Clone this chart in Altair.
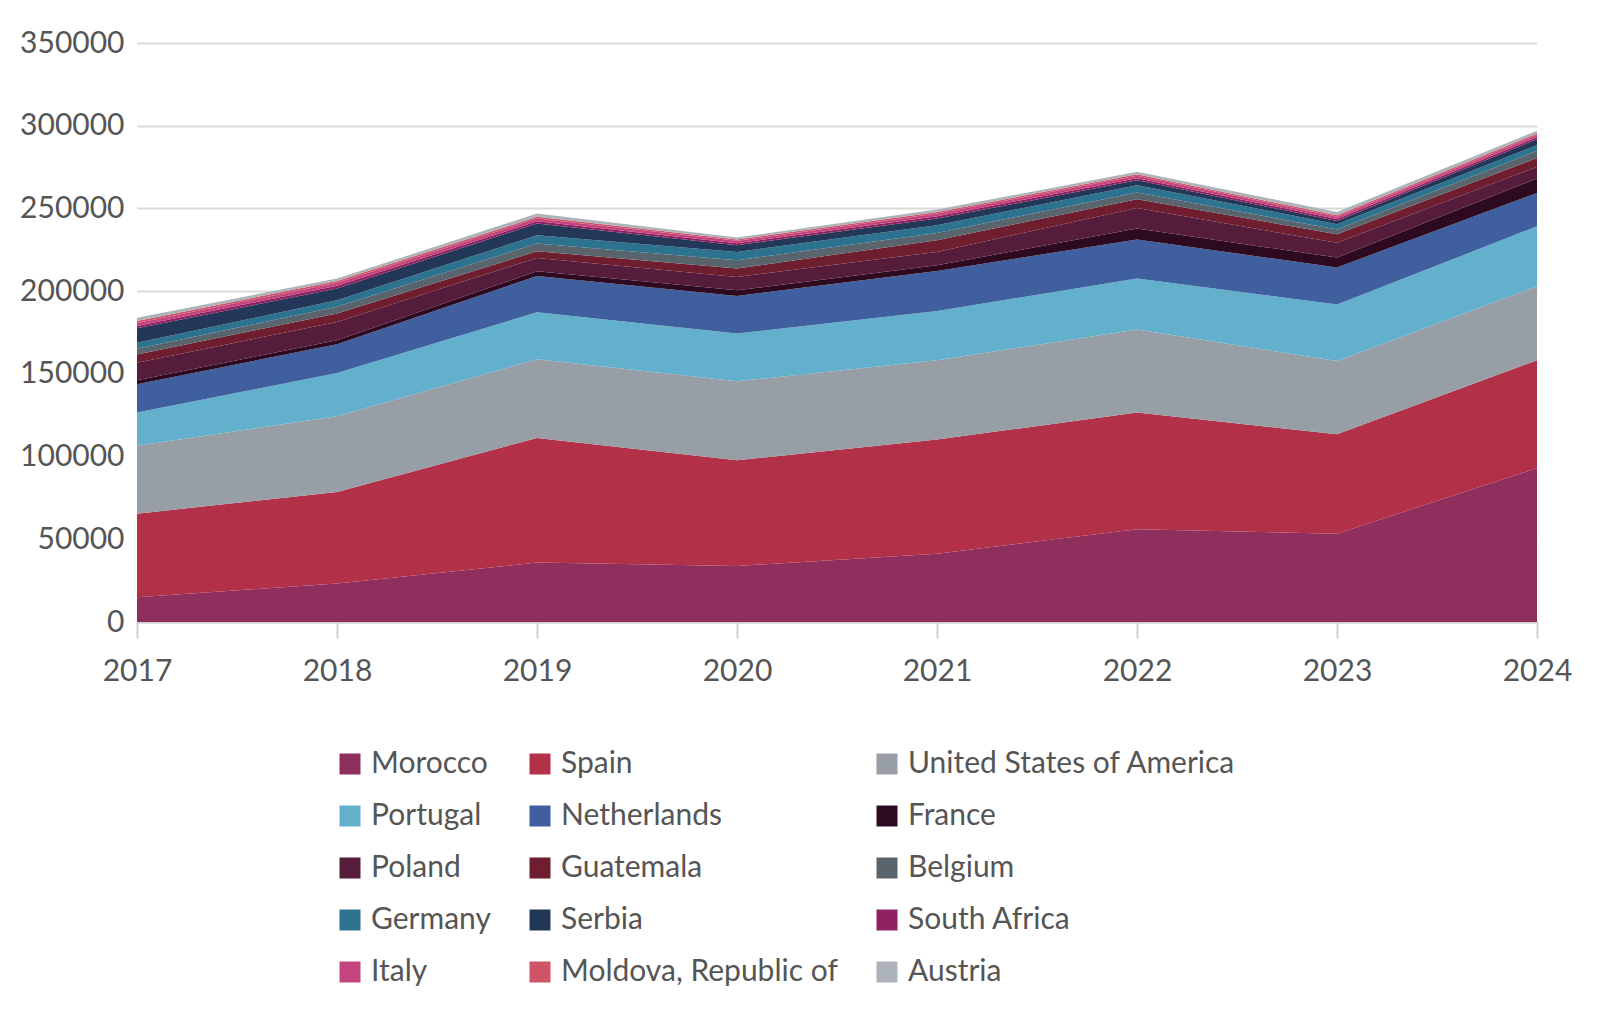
import altair as alt
import pandas as pd

years = [2017, 2018, 2019, 2020, 2021, 2022, 2023, 2024]

countries = [
    "Morocco", "Spain", "United States of America", "Portugal", "Netherlands",
    "France", "Poland", "Guatemala", "Belgium", "Germany", "Serbia",
    "South Africa", "Italy", "Moldova, Republic of", "Austria",
]

colors = [
    "#8E2F5E", "#B23149", "#979EA6", "#63B0CD", "#3F5F9E",
    "#2E0A20", "#561C3C", "#6E1E2E", "#5A646C", "#2D728E", "#233759",
    "#8E2160", "#C3447F", "#D15366", "#ADB3BA",
]

morocco = [15000, 23200, 35900, 33900, 41300, 56000, 53400, 93000]
spain = [50500, 55400, 75300, 63900, 69000, 70600, 60100, 65200]
usa = [41100, 45800, 47600, 47700, 47900, 50200, 44300, 44800]
portugal = [20000, 26100, 28400, 28900, 29800, 30800, 34100, 36200]
netherlands = [17100, 17400, 22000, 22700, 24200, 23600, 22400, 20200]
france = [2500, 2400, 2800, 3400, 3500, 6600, 6000, 8700]
poland = [10500, 11100, 8100, 8100, 8000, 12500, 8900, 7000]
guatemala = [5000, 5100, 4000, 5100, 7100, 5300, 5200, 5400]
belgium = [3500, 4000, 4700, 5000, 4400, 4000, 2800, 4300]
germany = [3600, 4000, 5000, 5000, 4600, 4400, 3300, 3400]
serbia = [8700, 7100, 7100, 4100, 4100, 3000, 1900, 3600]
south_africa = [1500, 1600, 1400, 1200, 1400, 1300, 1200, 1200]
italy = [1800, 1800, 1600, 1400, 1600, 1500, 1400, 1400]
moldova = [1100, 1200, 1000, 800, 1000, 900, 900, 900]
austria = [2000, 1400, 2000, 1200, 1400, 1400, 2000, 1600]

series = [morocco, spain, usa, portugal, netherlands, france, poland,
          guatemala, belgium, germany, serbia, south_africa, italy,
          moldova, austria]

y_ticks = [0, 50000, 100000, 150000, 200000, 250000, 300000, 350000]

rows = []
for idx, (name, vals) in enumerate(zip(countries, series)):
    for yr, v in zip(years, vals):
        rows.append({"year": yr, "country": name, "value": v, "idx": idx})
df = pd.DataFrame(rows)

FONT = "Lato"
TXT = "#555555"

chart = (
    alt.Chart(df)
    .mark_area(opacity=1)
    .encode(
        x=alt.X(
            "year:Q",
            scale=alt.Scale(domain=[2017, 2024], nice=False, zero=False),
            axis=alt.Axis(
                values=years, format="d", title=None, grid=False,
                domain=True, domainColor="#d0d0d0", domainWidth=2,
                ticks=True, tickColor="#d0d0d0", tickSize=16, tickWidth=2,
                labelFontSize=30, labelColor=TXT, labelFont=FONT,
                labelPadding=18, labelFlush=False,
            ),
        ),
        y=alt.Y(
            "value:Q",
            stack="zero",
            scale=alt.Scale(domain=[0, 350000], nice=False),
            axis=alt.Axis(
                values=y_ticks, format="d", title=None, grid=True,
                gridColor="#d9d9d9", gridWidth=2, domain=False, ticks=False,
                labelFontSize=30, labelColor=TXT, labelFont=FONT,
                labelPadding=13,
            ),
        ),
        color=alt.Color(
            "country:N",
            scale=alt.Scale(domain=countries, range=colors),
            sort=countries,
            legend=alt.Legend(
                title=None, orient="none", legendX=198, legendY=706,
                direction="horizontal",
                columns=3, columnPadding=34, rowPadding=22,
                symbolType="square", symbolSize=441, symbolStrokeWidth=0,
                symbolOpacity=1, labelFontSize=30, labelColor=TXT,
                labelFont=FONT, labelOffset=6, labelLimit=600, padding=0,
            ),
        ),
        order=alt.Order("idx:Q", sort="ascending"),
    )
    .properties(
        width=1400, height=579,
        autosize=alt.AutoSizeParams(type="none"),
        padding={"left": 129, "top": 35, "right": 55, "bottom": 380},
    )
    .configure_view(strokeWidth=0)
)

chart.save("out.html", embed_options={"renderer": "svg", "actions": False})
